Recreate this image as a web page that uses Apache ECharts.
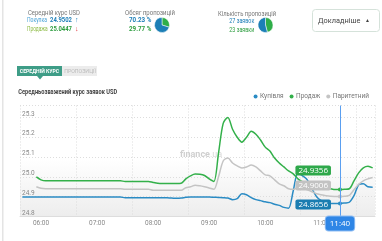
<!DOCTYPE html>
<html>
<head>
<meta charset="utf-8">
<script src="https://cdn.jsdelivr.net/npm/echarts@6/dist/echarts.min.js"></script>
<style>
html, body { margin: 0; padding: 0; background: #fff; }
#chart { width: 382px; height: 241px; }
</style>
</head>
<body>
<div id="chart"></div>
<script>
// часові мітки (до 11:00 крок 5 хв, далі нерівномірно)
const times = []
for (let m = 340; m <= 660; m += 5) {
  times.push(String(Math.floor(m / 60)).padStart(2, '0') + ':' + String(m % 60).padStart(2, '0'))
}
times.push('11:10', '11:20', '11:30', '11:40', '11:43', '11:46', '11:49', '11:52', '11:55', '11:57', '11:59')

const buyValues = [
  24.898, 24.898, 24.898, 24.898, 24.898, 24.898, 24.898, 24.898, 24.898, 24.898,
  24.898, 24.898, 24.898, 24.898, 24.898, 24.898, 24.898, 24.898, 24.898, 24.898,
  24.898, 24.898, 24.895, 24.895, 24.895, 24.895, 24.895, 24.895, 24.895, 24.895,
  24.895, 24.894, 24.893, 24.892, 24.893, 24.897, 24.898, 24.898, 24.898, 24.898,
  24.898, 24.897, 24.896, 24.895, 24.893, 24.885, 24.890, 24.915, 24.910, 24.895,
  24.885, 24.880, 24.874, 24.870, 24.862, 24.856, 24.846, 24.842, 24.930, 25.020,
  25.005, 24.985, 24.940, 24.900, 24.880, 24.870, 24.866, 24.866, 24.8656, 24.868,
  24.872, 24.905, 24.960, 24.965, 24.950, 24.948
]
const sellValues = [
  null, null, null, 25.000, 24.985, 24.980, 24.980, 24.980, 24.980, 24.980,
  24.980, 24.980, 24.980, 24.980, 24.980, 24.980, 24.980, 24.980, 24.980, 24.980,
  24.980, 24.980, 24.977, 24.977, 24.977, 24.977, 24.977, 24.977, 24.972, 24.968,
  24.967, 24.967, 24.967, 24.967, 24.968, 24.990, 25.005, 25.014, 25.013, 25.007,
  24.990, 24.977, 25.120, 25.270, 25.300, 25.240, 25.200, 25.175, 25.200, 25.230,
  25.215, 25.186, 25.150, 25.130, 25.095, 25.070, 25.050, 25.030, 25.015, 24.990,
  24.975, 24.968, 24.960, 24.955, 24.950, 24.945, 24.940, 24.936, 24.9356, 24.937,
  24.940, 24.980, 25.020, 25.045, 25.053, 25.045
]
const parityValues = [
  null, null, null, 24.950, 24.942, 24.940, 24.940, 24.940, 24.940, 24.940,
  24.940, 24.940, 24.940, 24.940, 24.940, 24.940, 24.940, 24.940, 24.940, 24.940,
  24.940, 24.940, 24.937, 24.937, 24.937, 24.937, 24.937, 24.937, 24.932, 24.932,
  24.932, 24.932, 24.932, 24.932, 24.932, 24.945, 24.950, 24.958, 24.955, 24.950,
  24.944, 24.937, 25.000, 25.080, 25.095, 25.070, 25.055, 25.045, 25.050, 25.060,
  25.050, 25.030, 25.010, 25.005, 24.985, 24.965, 24.955, 24.940, 24.937, 24.945,
  24.940, 24.935, 24.925, 24.915, 24.910, 24.905, 24.902, 24.901, 24.9006, 24.902,
  24.906, 24.935, 24.962, 24.980, 24.990, 24.997
]
const cursorTime = '11:40'

const volumeShares = [29.77, 70.23]   // продаж, купівля (%)
const offerCounts = [23, 27]          // продаж, купівля (заявок)

const BLUE = '#2a8bc4'
const GREEN = '#33b04a'
const GRAY = '#c4c4c4'
const FONT = 'Roboto'

const cursorIndex = times.indexOf(cursorTime)

const measureCtx = document.createElement('canvas').getContext('2d')

function withCursorLabel(values, bg, dy) {
  return values.map((v, i) => {
    if (i !== cursorIndex) return v
    return {
      value: v,
      label: {
        show: true,
        position: 'left',
        distance: 7,
        offset: [0, dy],
        formatter: v.toFixed(4),
        color: '#fff',
        fontSize: 8,
        fontFamily: 'Open Sans',
        backgroundColor: bg,
        borderRadius: 2,
        padding: [1, 3, 0, 3],
        lineHeight: 9
      }
    }
  })
}

function lineSeries(name, values, color, bg, dy) {
  return {
    name: name,
    type: 'line',
    data: withCursorLabel(values, bg, dy),
    smooth: 0.3,
    symbol: 'circle',
    symbolSize: (v, p) => (p.dataIndex === cursorIndex ? 4 : 0),
    showAllSymbol: true,
    itemStyle: { color: color },
    lineStyle: { color: color, width: 1.5 },
    emphasis: { disabled: true },
    silent: true
  }
}

// текст, стиснутий по ширині під оригінал
function txt(x, y, text, color, size, width, extra) {
  extra = extra || {}
  measureCtx.font = (extra.fontWeight || 'normal') + ' ' + size + 'px ' + FONT
  const sx = width ? width / measureCtx.measureText(text).width : 1
  return {
    type: 'text', x: x, y: y, z: 10, scaleX: sx,
    style: Object.assign({
      text: text, fill: color, fontSize: size, fontFamily: FONT,
      verticalAlign: 'middle', align: 'left'
    }, extra)
  }
}

const chart = echarts.init(document.getElementById('chart'))

const option = {
  animation: false,
  color: [BLUE, GREEN, GRAY],
  textStyle: { fontFamily: FONT },
  legend: {
    data: ['Купівля', 'Продаж', 'Паритетний'],
    right: 8,
    top: 88,
    icon: 'circle',
    itemWidth: 4,
    itemHeight: 4,
    itemGap: 6,
    textStyle: { fontSize: 6.5, color: '#777', fontFamily: FONT, padding: [0, 0, 0, -2.5] }
  },
  grid: {
    left: 20,
    right: 7,
    top: 105.5,
    bottom: 24.5,
    show: true,
    borderWidth: 0,
    backgroundColor: new echarts.graphic.LinearGradient(0, 0, 0, 1, [
      { offset: 0, color: '#ffffff' },
      { offset: 0.48, color: '#ffffff' },
      { offset: 1, color: '#ededed' }
    ])
  },
  xAxis: {
    type: 'category',
    data: times,
    boundaryGap: true,
    axisLine: { show: true, lineStyle: { color: '#dddddd' } },
    axisTick: { show: false },
    axisLabel: {
      interval: (i, v) => v.endsWith(':00'),
      fontSize: 6.5,
      fontFamily: FONT,
      color: '#888',
      margin: 3
    },
    splitLine: {
      show: true,
      interval: 11,
      lineStyle: { color: '#dddddd', type: [1, 2] }
    },
    axisPointer: {
      show: true,
      status: 'show',
      value: cursorIndex,
      type: 'line',
      lineStyle: { color: '#5a9ff0', width: 1, type: 'solid' },
      label: {
        show: true,
        backgroundColor: '#2f86e6',
        borderColor: '#8fbdf3',
        borderWidth: 1,
        color: '#fff',
        fontSize: 8,
        fontFamily: 'Open Sans',
        padding: [3, 4],
        margin: 0
      }
    }
  },
  yAxis: {
    type: 'value',
    min: 24.8,
    max: 25.36,
    interval: 0.1,
    axisLine: { show: false },
    axisTick: { show: false },
    axisLabel: {
      inside: true,
      showMaxLabel: false,
      formatter: v => v.toFixed(1),
      verticalAlign: 'bottom',
      margin: 2,
      fontSize: 6.5,
      fontFamily: FONT,
      color: '#888'
    },
    splitLine: { lineStyle: { color: '#dddddd', type: [1, 2] } }
  },
  series: [
    lineSeries('Купівля', buyValues, BLUE, '#1b7db1', 1),
    lineSeries('Продаж', sellValues, GREEN, '#2ea84a', -19),
    lineSeries('Паритетний', parityValues, GRAY, '#c2c2c2', -11),
    {
      type: 'pie',
      center: [162, 25],
      radius: 7.5,
      silent: true,
      label: { show: false },
      itemStyle: { borderColor: '#fff', borderWidth: 0.5 },
      data: [
        { value: volumeShares[0], itemStyle: { color: '#2fae48' } },
        { value: volumeShares[1], itemStyle: { color: '#1c7fb6' } }
      ]
    },
    {
      type: 'pie',
      center: [265.5, 25],
      radius: 7.5,
      silent: true,
      label: { show: false },
      itemStyle: { borderColor: '#fff', borderWidth: 0.5 },
      data: [
        { value: offerCounts[0], itemStyle: { color: '#2fae48' } },
        { value: offerCounts[1], itemStyle: { color: '#1c7fb6' } }
      ]
    }
  ],
  graphic: [
    { type: 'rect', shape: { x: 2, y: 0, width: 1.5, height: 241 }, style: { fill: '#e4e4e4' } },

    txt(28, 13, 'Середній курс USD', '#777', 7, 52),
    txt(27, 20.5, 'Покупка', '#4aa3d8', 7.5, 20),
    txt(50, 20.5, '24.9502', '#1e7fb8', 7.5, 22, { fontWeight: 'bold' }),
    txt(75, 20.5, '↑', '#1e7fb8', 7),
    txt(27, 29.3, 'Продажа', '#8dbb45', 7.5, 20.6),
    txt(50, 29.3, '25.0447', '#2f9e41', 7.5, 22, { fontWeight: 'bold' }),
    txt(75, 29.3, '↓', '#e0393e', 7),

    txt(125, 13, 'Обсяг пропозицій', '#777', 7, 50),
    txt(129, 20.5, volumeShares[1].toFixed(2) + ' %', '#1e7fb8', 7.5, 22.4, { fontWeight: 'bold' }),
    txt(129, 29.3, volumeShares[0].toFixed(2) + ' %', '#2f9e41', 7.5, 22.4, { fontWeight: 'bold' }),

    txt(218, 14, 'Кількість пропозицій', '#777', 7, 58),
    txt(254.3, 20.7, offerCounts[1] + ' заявок', '#1e7fb8', 7.5, 25, { align: 'right' }),
    txt(254.3, 30, offerCounts[0] + ' заявки', '#2f9e41', 7.5, 25, { align: 'right' }),

    { type: 'rect', shape: { x: 312.5, y: 9.5, width: 67, height: 22, r: 3 }, style: { fill: '#fff', stroke: '#d5e2da', lineWidth: 1 } },
    txt(318, 20.5, 'Докладніше', '#444', 8, 42.3),
    txt(365, 20.5, '▲', '#444', 5),

    { type: 'rect', shape: { x: 17, y: 66, width: 45, height: 10 }, style: { fill: '#3e9d87' } },
    { type: 'polygon', shape: { points: [[37, 76], [43, 76], [40, 79.5]] }, style: { fill: '#3e9d87' } },
    txt(39.5, 71.2, 'СЕРЕДНІЙ КУРС', '#fff', 6, 39.3, { align: 'center', fontWeight: 'bold' }),
    { type: 'rect', shape: { x: 62, y: 66, width: 35, height: 10 }, style: { fill: '#ececec' } },
    txt(80, 71.2, 'ПРОПОЗИЦІЇ', '#bbb', 6, 31.7, { align: 'center' }),

    txt(18.3, 92.3, 'Середньозважений курс заявок USD', '#444', 7.5, 99, { fontWeight: 'bold' }),

    {
      type: 'text', x: 180, y: 155, z: 1,
      style: {
        text: '{a|finance}{b|.ua}',
        verticalAlign: 'middle',
        rich: {
          a: { fill: '#cfcfcf', fontSize: 9, fontWeight: 'bold', fontFamily: FONT },
          b: { fill: '#d8d8d8', fontSize: 9, fontFamily: FONT }
        }
      }
    }
  ]
}

chart.setOption(option)
</script>
</body>
</html>
